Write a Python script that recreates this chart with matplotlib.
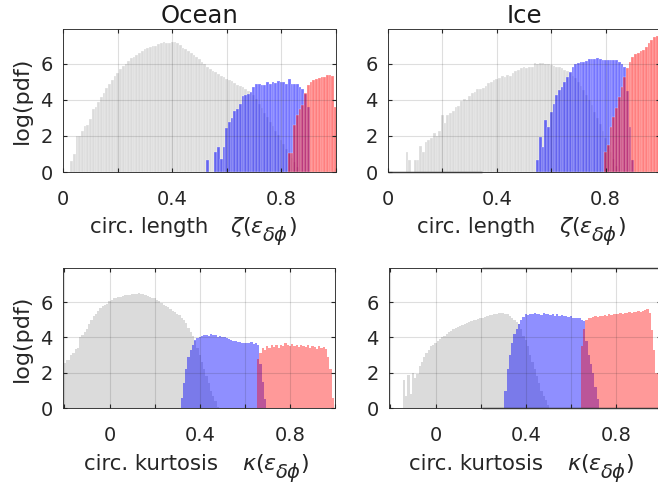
import numpy as np
import matplotlib
matplotlib.use("Agg")
import matplotlib.pyplot as plt
from matplotlib.transforms import IdentityTransform

# ---- histogram data: log(pdf) per 0.01-wide bin -------------------------
bin_w = 0.01

# Ocean, circular length
ocean_len_grey_first = 0.03
ocean_len_grey = [0.61, 1.01, 2.0, 2.0, 2.3, 2.55, 2.6, 2.95, 3.5, 3.6,
                  3.9, 4.15, 4.4, 4.65, 4.9, 5.1, 5.35, 5.5, 5.7, 5.9,
                  6.0, 6.15, 6.3, 6.4, 6.5, 6.6, 6.7, 6.8, 6.9, 6.95,
                  7.0, 7.0, 7.1, 7.15, 7.2, 7.15, 7.15, 7.2, 7.2, 7.15,
                  7.05, 6.9, 6.8, 6.7, 6.6, 6.5, 6.4, 6.28, 6.12, 6.0,
                  5.85, 5.72, 5.63, 5.55, 5.43, 5.35, 5.25, 5.17, 5.11, 5.04,
                  4.96, 4.85, 4.78, 4.7, 4.6, 4.5, 4.4, 4.25, 4.05, 3.8,
                  3.55, 3.3, 3.05, 2.8, 2.55, 2.3, 2.05, 1.8, 1.55, 1.3,
                  1.05, 0.8, 0.55, 0.3]
ocean_len_blue_first = 0.53
ocean_len_blue = [0.67, 0.0, 0.0, 1.13, 1.37, 0.7, 1.37, 2.43, 2.8, 3.0,
                  3.4, 3.5, 3.78, 4.2, 4.3, 4.35, 4.45, 4.74, 4.87, 4.87,
                  4.83, 4.83, 5.0, 4.87, 5.0, 4.95, 5.05, 5.0, 5.0, 4.9,
                  5.15, 4.87, 4.9, 4.88, 4.74, 4.6, 4.35, 3.6]
ocean_len_red_first = 0.83
ocean_len_red = [1.04, 1.04, 2.6, 3.17, 3.5, 3.7, 4.37, 4.83, 5.0, 5.1,
                 5.15, 5.2, 5.25, 5.3, 5.4, 5.4, 5.35, 3.6]

# Ice, circular length
ice_len_grey_first = 0.07
ice_len_grey = [1.09, 0.68, 0.0, 0.68, 0.68, 1.42, 1.09, 1.64, 1.79, 1.88,
                2.16, 2.0, 2.25, 3.17, 2.71, 3.17, 3.27, 3.36, 3.63, 3.67,
                3.95, 4.04, 4.0, 4.22, 4.37, 4.46, 4.59, 4.59, 4.65, 4.78,
                4.93, 5.02, 5.11, 5.15, 5.24, 5.33, 5.3, 5.39, 5.33, 5.48,
                5.6, 5.66, 5.76, 5.85, 5.76, 5.85, 5.85, 6.03, 6.0, 6.03,
                6.03, 6.0, 5.98, 5.94, 5.89, 5.85, 5.8, 5.76, 5.66, 5.6,
                5.5, 5.35, 5.2, 5.0, 4.8, 4.55, 4.3, 4.0, 3.7, 3.35,
                3.0, 2.65, 2.3, 1.9, 1.5, 1.1, 0.7, 0.35]
ice_len_blue_first = 0.55
ice_len_blue = [0.68, 1.96, 1.4, 2.89, 2.5, 3.35, 3.77, 4.27, 4.56, 4.74,
                5.0, 5.3, 5.56, 5.81, 5.98, 6.07, 6.09, 6.09, 6.17, 6.26,
                6.28, 6.26, 6.33, 6.26, 6.22, 6.22, 6.22, 6.22, 6.22, 6.19,
                6.13, 5.98, 5.85, 4.5, 2.5, 0.67]
ice_len_red_first = 0.80
ice_len_red = [1.13, 1.5, 2.52, 3.04, 3.54, 4.19, 4.74, 5.3, 5.77, 6.13,
               6.4, 6.56, 6.6, 6.69, 6.78, 6.96, 7.15, 7.33, 7.48, 7.55]

# Ocean, circular kurtosis
ocean_kur_grey_first = -0.20
ocean_kur_grey = [2.55, 2.75, 2.7, 3.0, 3.1, 3.35, 3.4, 4.05, 4.15, 4.3,
                  4.45, 4.75, 5.0, 5.2, 5.35, 5.5, 5.65, 5.75, 5.85, 5.9,
                  6.05, 6.1, 6.2, 6.25, 6.28, 6.3, 6.35, 6.38, 6.4, 6.42,
                  6.44, 6.46, 6.47, 6.5, 6.48, 6.44, 6.4, 6.35, 6.3, 6.25,
                  6.2, 6.1, 6.05, 5.95, 5.85, 5.8, 5.7, 5.6, 5.52, 5.45,
                  5.35, 5.25, 5.1, 5.0, 4.8, 4.55, 4.3, 4.1, 3.8, 3.4,
                  3.0, 2.6, 2.2, 1.8, 1.4, 1.0, 0.7, 0.4, 0.1]
ocean_kur_blue_first = 0.32
ocean_kur_blue = [0.6, 1.4, 2.2, 2.9, 3.3, 3.6, 3.85, 3.95, 4.05, 4.1,
                  4.12, 4.15, 4.1, 4.18, 4.12, 4.15, 4.05, 4.08, 4.0, 4.02,
                  3.95, 3.9, 3.85, 3.8, 3.78, 3.75, 3.72, 3.7, 3.68, 3.7,
                  3.68, 3.72, 3.65, 3.7, 3.6, 2.5, 1.5, 0.5]
ocean_kur_red_first = 0.66
ocean_kur_red = [2.8, 3.1, 3.4, 3.3, 3.5, 3.4, 3.6, 3.45, 3.55, 3.4,
                 3.6, 3.5, 3.7, 3.55, 3.5, 3.65, 3.5, 3.6, 3.45, 3.55,
                 3.5, 3.45, 3.6, 3.4, 3.5, 3.45, 3.35, 3.5, 3.4, 3.45,
                 3.35, 2.9, 2.2, 0.6]

# Ice, circular kurtosis
ice_kur_grey_first = -0.14
ice_kur_grey = [1.6, 0.7, 1.9, 0.8, 2.0, 1.7, 1.95, 2.4, 2.6, 2.9,
                3.1, 3.3, 3.5, 3.6, 3.68, 3.8, 3.93, 4.0, 4.1, 4.2,
                4.28, 4.35, 4.45, 4.52, 4.58, 4.63, 4.7, 4.77, 4.82, 4.87,
                4.92, 4.96, 5.0, 5.05, 5.08, 5.12, 5.16, 5.2, 5.25, 5.27,
                5.3, 5.33, 5.37, 5.38, 5.36, 5.35, 5.3, 5.2, 5.1, 4.97,
                4.85, 4.75, 4.5, 4.1, 3.85, 3.5, 3.0, 2.6, 2.2, 1.8,
                1.4, 1.0, 0.7, 0.45, 0.2]
ice_kur_blue_first = 0.31
ice_kur_blue = [1.0, 2.2, 3.0, 3.7, 4.2, 4.5, 4.75, 5.0, 5.15, 5.3,
                5.25, 5.35, 5.3, 5.4, 5.3, 5.35, 5.25, 5.38, 5.3, 5.32,
                5.25, 5.35, 5.22, 5.3, 5.2, 5.25, 5.2, 5.22, 5.15, 5.2,
                5.12, 5.1, 5.1, 5.08, 5.0, 4.9, 3.8, 3.0, 2.5, 2.0,
                1.2, 0.5]
ice_kur_red_first = 0.65
ice_kur_red = [3.5, 4.5, 5.0, 5.1, 5.12, 5.15, 5.2, 5.18, 5.22, 5.2,
               5.25, 5.22, 5.3, 5.25, 5.3, 5.35, 5.3, 5.38, 5.35, 5.4,
               5.38, 5.42, 5.4, 5.45, 5.42, 5.48, 5.45, 5.5, 5.55, 5.58,
               5.4, 4.4, 3.3, 2.0, 1.5]

titles = ["Ocean", "Ice"]
label_words = ["circ. length", "circ. kurtosis"]
label_symbols = [r"\zeta", r"\kappa"]
ylabel = "log(pdf)"

grey_c = "#c4c4c4"
blue_c = "#0000ff"
red_c = "#ff0000"
ink = "#262626"

# ---- figure -------------------------------------------------------------
W, H = 658, 487
plt.rcParams["font.family"] = ["DejaVu Sans"]
plt.rcParams["mathtext.fontset"] = "dejavusans"
fig = plt.figure(figsize=(W / 100, H / 100), dpi=100)
renderer = fig.canvas.get_renderer()


def px_axes(left, top, right, bottom):
    return fig.add_axes([left / W, 1 - bottom / H, (right - left) / W,
                         (bottom - top) / H])


# (axes box in px, x-limits, series, column, row,
#  label word right edge, symbol left edge, label baseline)
panels = [
    ((63.3, 29.3, 335.5, 172), (0.0, 1.0),
     [(ocean_len_grey_first, ocean_len_grey),
      (ocean_len_blue_first, ocean_len_blue),
      (ocean_len_red_first, ocean_len_red)], 0, 0, 208, 230, 233),
    ((388, 29.3, 660, 172), (0.0, 1.0),
     [(ice_len_grey_first, ice_len_grey),
      (ice_len_blue_first, ice_len_blue),
      (ice_len_red_first, ice_len_red)], 1, 0, 535, 559, 233),
    ((63.3, 268, 335, 408.3), (-0.205, 1.0),
     [(ocean_kur_grey_first, ocean_kur_grey),
      (ocean_kur_blue_first, ocean_kur_blue),
      (ocean_kur_red_first, ocean_kur_red)], 0, 1, 218, 242, 470),
    ((389.3, 268, 661, 408.3), (-0.205, 1.0),
     [(ice_kur_grey_first, ice_kur_grey),
      (ice_kur_blue_first, ice_kur_blue),
      (ice_kur_red_first, ice_kur_red)], 1, 1, 543, 567, 470),
]

# (colour, alpha) per series, plus the separator line width per row
row_styles = {
    0: [(grey_c, 0.6), (blue_c, 0.54), (red_c, 0.5)],
    1: [(grey_c, 0.6), (blue_c, 0.44), (red_c, 0.4)],
}
row_edge_lw = {0: 0.35, 1: 0.0}


def put(x_px, baseline_px, s, size, ha="left"):
    return fig.text(x_px, H - baseline_px, s, transform=IdentityTransform(),
                    ha=ha, va="baseline", fontsize=size, color=ink)


def axis_label(word, sym, right_px, left_px, baseline_px):
    put(right_px, baseline_px, word, 15.3, ha="right")
    head = put(left_px, baseline_px, "$" + sym + r"(\epsilon$", 16)
    x = left_px + head.get_window_extent(renderer).width - 2.0
    sub = put(x, baseline_px + 8, r"$\delta\phi$", 14)
    x += sub.get_window_extent(renderer).width - 0.5
    put(x, baseline_px, ")", 16)


for box, xlim, series, col, row, wr, ml, base in panels:
    ax = px_axes(*box)
    for (first, vals), (c, a) in zip(series, row_styles[row]):
        centers = first + bin_w * np.arange(len(vals))
        lw = row_edge_lw[row]
        ax.bar(centers, vals, width=bin_w, color=c, alpha=a,
               edgecolor="white" if lw > 0 else "none", linewidth=lw)
    xt = [v for v in [-0.2, 0.0, 0.2, 0.4, 0.6, 0.8, 1.0]
          if xlim[0] - 1e-9 <= v <= xlim[1] + 1e-9]
    ax.set_xticks(xt)
    ax.set_xticklabels([{0.0: "0", 0.4: "0.4", 0.8: "0.8"}.get(v, "")
                        for v in xt])
    ax.set_xlim(*xlim)
    ax.set_yticks([0, 2, 4, 6])
    ax.set_yticklabels(["0", "2", "4", "6"])
    ax.set_ylim(0, 7.92)
    ax.tick_params(direction="in", length=3, width=0.8, top=True, right=True,
                   labelsize=14, colors=ink, pad=7.5)
    ax.tick_params(axis="x", pad=13)
    ax.grid(True, color=ink, alpha=0.15, linewidth=0.8)
    ax.set_axisbelow(False)
    for s in ax.spines.values():
        s.set_color("#3a3a3a")
        s.set_linewidth(0.7)
    axis_label(label_words[row], label_symbols[row], wr, ml, base)
    if row == 0:
        ax.set_title(titles[col], fontsize=17.5, pad=4.7, color="#1a1a1a")
    if col == 0:
        ax.set_ylabel(ylabel, fontsize=16, color=ink)
        ax.yaxis.set_label_coords(-0.117, 0.5)
    # slightly heavier frame segments on the Ice panels
    if col == 1 and row == 0:
        ax.plot([0.0, 0.345], [0, 0], color="#2a2a2a", lw=1.0,
                transform=ax.get_xaxis_transform(), clip_on=False,
                solid_capstyle="butt")
    if col == 1 and row == 1:
        for yy in (0, 1):
            ax.plot([0.207, 1.0], [yy, yy], color="#2a2a2a", lw=1.0,
                    transform=ax.get_xaxis_transform(), clip_on=False,
                    solid_capstyle="butt")

fig.savefig("out.png", dpi=100)
